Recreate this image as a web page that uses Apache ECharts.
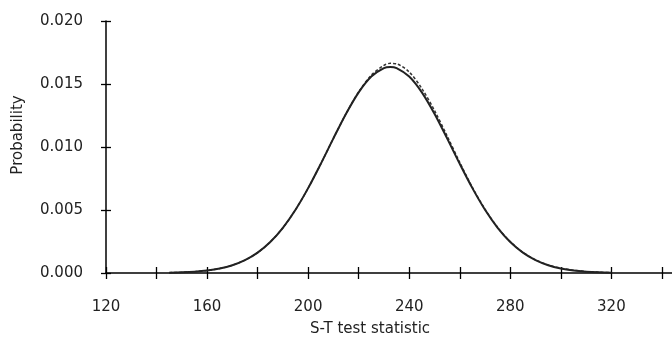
<!DOCTYPE html>
<html>
<head>
<meta charset="utf-8">
<script src="https://cdn.jsdelivr.net/npm/echarts@6/dist/echarts.min.js"></script>
<style>html,body{margin:0;padding:0;background:#fff}#c{width:672px;height:339px}</style>
</head>
<body>
<div id="c"></div>
<script>
// x positions (S-T test statistic)
var xValues = [145,150,155,160,165,170,175,180,185,190,195,200,205,210,215,220,225,230,232.5,235,240,245,250,255,260,265,270,275,280,285,290,295,300,305,310,315,320];
// solid curve (probability)
var solidValues = [0.000026,0.000054,0.000105,0.000198,0.000356,0.000615,0.001018,0.001615,0.002458,0.003588,0.005020,0.006735,0.008664,0.010688,0.012643,0.014339,0.015596,0.016264,0.016350,0.016264,0.015596,0.014339,0.012643,0.010688,0.008664,0.006735,0.005020,0.003588,0.002458,0.001615,0.001018,0.000615,0.000356,0.000198,0.000105,0.000054,0.000026];
// dashed curve (probability)
var dashedValues = [0.000026,0.000054,0.000105,0.000198,0.000356,0.000615,0.001018,0.001615,0.002458,0.003588,0.005020,0.006735,0.008664,0.010688,0.012643,0.014380,0.015700,0.016480,0.016640,0.016600,0.015950,0.014640,0.012900,0.010880,0.008780,0.006790,0.005060,0.003620,0.002480,0.001640,0.001040,0.000640,0.000380,0.000220,0.000120,0.000062,0.000030];
var xTicks = [120,140,160,180,200,220,240,260,280,300,320,340];
var xLabels = [120,160,200,240,280,320];

function pairs(ys){ return xValues.map(function(x,i){ return [x, ys[i]]; }); }

var FONT = 'DejaVu Sans';
var chart = echarts.init(document.getElementById('c'), null, {renderer:'canvas'});
chart.setOption({
  animation: false,
  backgroundColor: '#fff',
  textStyle: {fontFamily: FONT},
  grid: {left: 106, top: 21, right: 0, bottom: 66, containLabel: false, outerBoundsMode: 'none'},
  xAxis: [{
    type: 'value', min: 120, max: 344, position: 'bottom',
    name: 'S-T test statistic', nameLocation: 'middle', nameGap: 49,
    nameTextStyle: {fontFamily: FONT, fontSize: 15, color: '#222', padding: [0, 38, 0, 0]},
    axisLine: {show: true, lineStyle: {color: '#000', width: 1.5}},
    axisTick: {show: true, length: 6, customValues: xTicks, lineStyle: {color: '#000', width: 1.3}},
    axisLabel: {show: true, customValues: xLabels, margin: 27, fontFamily: FONT, fontSize: 15, color: '#222'},
    splitLine: {show: false}
  }, {
    type: 'value', min: 120, max: 344, position: 'bottom',
    axisLine: {show: false},
    axisTick: {show: true, inside: true, length: 6, customValues: xTicks, lineStyle: {color: '#000', width: 1.3}},
    axisLabel: {show: false},
    splitLine: {show: false}
  }],
  yAxis: [{
    type: 'value', min: 0, max: 0.02, interval: 0.005, position: 'left',
    name: 'Probability', nameLocation: 'middle', nameGap: 80, nameRotate: 90,
    nameTextStyle: {fontFamily: FONT, fontSize: 15, color: '#222', padding: [0, 0, 0, 24]},
    axisLine: {show: true, lineStyle: {color: '#000', width: 1.5}},
    axisTick: {show: true, length: 5, lineStyle: {color: '#000', width: 1.3}},
    axisLabel: {show: true, margin: 23, fontFamily: FONT, fontSize: 15, color: '#222',
      formatter: function(v){ return v.toFixed(3); }},
    splitLine: {show: false}
  }, {
    type: 'value', min: 0, max: 0.02, interval: 0.005, position: 'left',
    axisLine: {show: false},
    axisTick: {show: true, inside: true, length: 5, lineStyle: {color: '#000', width: 1.3}},
    axisLabel: {show: false},
    splitLine: {show: false}
  }],
  series: [{
    type: 'line', xAxisIndex: 0, yAxisIndex: 0,
    data: pairs(dashedValues), smooth: 0.3, showSymbol: false,
    lineStyle: {color: '#333', width: 1.5, type: [3, 2]}
  }, {
    type: 'line', xAxisIndex: 0, yAxisIndex: 0,
    data: pairs(solidValues), smooth: 0.3, showSymbol: false,
    lineStyle: {color: '#222', width: 2}
  }]
});
</script>
</body>
</html>
